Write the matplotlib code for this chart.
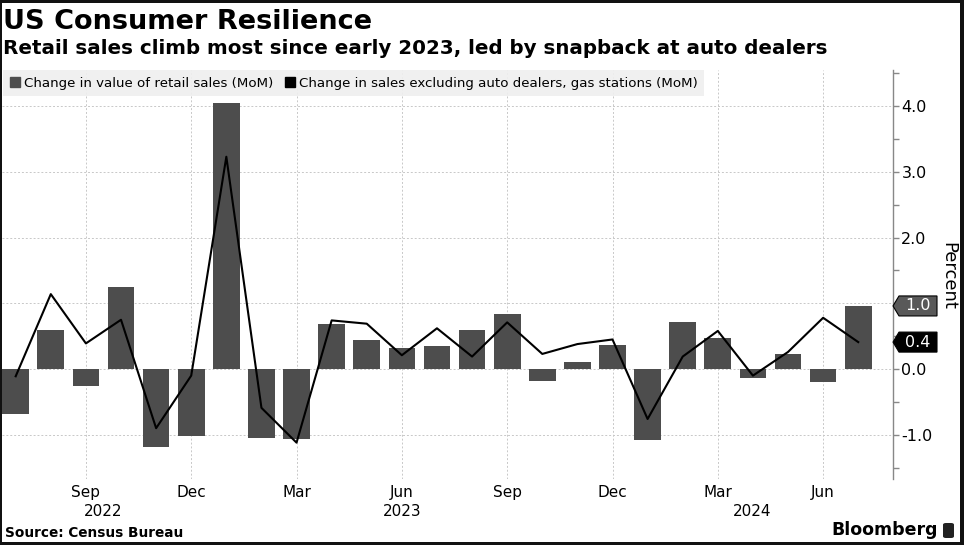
import matplotlib
matplotlib.use("Agg")
import matplotlib.pyplot as plt
import matplotlib.patches as mpatches
from matplotlib.ticker import MultipleLocator
import numpy as np

# ---- data ----
months = ["Jul 2022", "Aug 2022", "Sep 2022", "Oct 2022", "Nov 2022", "Dec 2022",
          "Jan 2023", "Feb 2023", "Mar 2023", "Apr 2023", "May 2023", "Jun 2023",
          "Jul 2023", "Aug 2023", "Sep 2023", "Oct 2023", "Nov 2023", "Dec 2023",
          "Jan 2024", "Feb 2024", "Mar 2024", "Apr 2024", "May 2024", "Jun 2024",
          "Jul 2024"]
retail_sales = [-0.68, 0.60, -0.26, 1.25, -1.18, -1.02, 4.05, -1.05, -1.06, 0.68,
                0.44, 0.32, 0.35, 0.60, 0.83, -0.18, 0.11, 0.37, -1.08, 0.71,
                0.47, -0.14, 0.23, -0.20, 0.96]
ex_autos_gas = [-0.11, 1.14, 0.39, 0.75, -0.90, -0.10, 3.23, -0.59, -1.12, 0.74,
                0.69, 0.21, 0.62, 0.19, 0.71, 0.23, 0.38, 0.45, -0.76, 0.19,
                0.58, -0.10, 0.26, 0.78, 0.41]
tick_months = ["Sep 2022", "Dec 2022", "Mar 2023", "Jun 2023", "Sep 2023",
               "Dec 2023", "Mar 2024", "Jun 2024"]
tick_labels = ["Sep", "Dec", "Mar", "Jun", "Sep", "Dec", "Mar", "Jun"]
year_labels = ["2022", "2023", "2024"]
year_label_pos = [2.48, 11.0, 20.97]
yticks = [-1.0, 0.0, 1.0, 2.0, 3.0, 4.0]

BAR = "#4d4d4d"
W, H = 964, 545
fig = plt.figure(figsize=(W / 100, H / 100), dpi=100)
fig.patch.set_facecolor("#111111")
fig.add_artist(mpatches.Rectangle((2 / W, 3 / H), (W - 6) / W, (H - 6) / H,
                                  transform=fig.transFigure, facecolor="white",
                                  edgecolor="none", zorder=0))

ax = fig.add_axes([2 / W, (H - 479) / H, (893 - 2) / W, (479 - 70) / H])
ax.set_facecolor("none")
x = np.arange(len(months))
ax.bar(x, retail_sales, width=0.76, color=BAR, zorder=2)
ax.plot(x, ex_autos_gas, color="black", lw=1.5, zorder=3)

ax.set_xlim(-0.39, 24.99)
ax.set_ylim(-1.673, 4.55)

for s in ["left", "top", "bottom"]:
    ax.spines[s].set_visible(False)
ax.spines["right"].set_color("#888888")
ax.spines["right"].set_linewidth(1)

# value tags cover the matching axis labels
tag_values = [round(retail_sales[-1], 1), round(ex_autos_gas[-1], 1)]

ax.yaxis.tick_right()
ax.set_yticks(yticks)
ax.set_yticklabels(["" if any(abs(v - t) < 0.15 for t in tag_values) else f"{v:.1f}"
                    for v in yticks])
ax.yaxis.set_minor_locator(MultipleLocator(0.5))
ax.tick_params(axis="y", which="both", direction="out", length=4, width=1,
               color="#888888", labelsize=11.5, pad=2, labelcolor="black")

pos = [months.index(m) for m in tick_months]
ax.set_xticks(pos)
ax.set_xticklabels(tick_labels)
ax.tick_params(axis="x", length=0, labelsize=11, pad=4)
for lbl, xp in zip(year_labels, year_label_pos):
    ax.text(xp, -0.062, lbl, transform=ax.get_xaxis_transform(), ha="center",
            va="top", fontsize=11)

ax.grid(True, which="major", axis="both", color="#c8c8c8", linestyle=(0, (2, 2)),
        linewidth=0.7, zorder=0)
ax.set_axisbelow(True)

handles = [mpatches.Patch(color=BAR, label="Change in value of retail sales (MoM)"),
           mpatches.Patch(color="black",
                          label="Change in sales excluding auto dealers, gas stations (MoM)")]
leg = ax.legend(handles=handles, loc="upper left", bbox_to_anchor=(0.001, 1.0),
                ncol=2, fontsize=9.6, frameon=True, fancybox=False,
                borderaxespad=0, handlelength=0.75, handleheight=0.75,
                handletextpad=0.3, columnspacing=0.9, borderpad=0.5)
leg.get_frame().set_facecolor("#efefef")
leg.get_frame().set_edgecolor("none")
leg.get_frame().set_alpha(0.9)

fig.text(3 / W, 1 - 22 / H, "US Consumer Resilience", fontsize=19.5,
         fontweight="bold", va="center", ha="left")
fig.text(3 / W, 1 - 48 / H,
         "Retail sales climb most since early 2023, led by snapback at auto dealers",
         fontsize=14.3, fontweight="bold", va="center", ha="left")
fig.text(948 / W, 1 - 276 / H, "Percent", rotation=270, fontsize=13,
         ha="center", va="center")
fig.text(5 / W, 1 - 533 / H, "Source: Census Bureau", fontsize=9.8,
         fontweight="bold", va="center", ha="left")
fig.text(938 / W, 1 - 530 / H, "Bloomberg", fontsize=12.5, fontweight="bold",
         va="center", ha="right")
fig.add_artist(mpatches.FancyBboxPatch((943 / W, 1 - 538 / H), 11 / W, 15 / H,
                                       boxstyle="round,pad=0,rounding_size=0.003",
                                       transform=fig.transFigure,
                                       facecolor="#222222", edgecolor="none"))

# value tags on right axis
fig.canvas.draw()
def tag(value, text, face):
    px, py = ax.transData.transform((ax.get_xlim()[1], value))
    verts = [(px, py), (px + 6, py - 10), (px + 44, py - 10),
             (px + 44, py + 10), (px + 6, py + 10)]
    poly = mpatches.Polygon(verts, closed=True, transform=None, facecolor=face,
                            edgecolor="black", lw=0.8, zorder=10)
    fig.add_artist(poly)
    fig.text((px + 25) / W, py / H, text, color="white", fontsize=11.5,
             ha="center", va="center", zorder=11)

tag(retail_sales[-1], f"{retail_sales[-1]:.1f}", "#595959")
tag(ex_autos_gas[-1], f"{ex_autos_gas[-1]:.1f}", "black")

fig.savefig("out.png", dpi=100)
